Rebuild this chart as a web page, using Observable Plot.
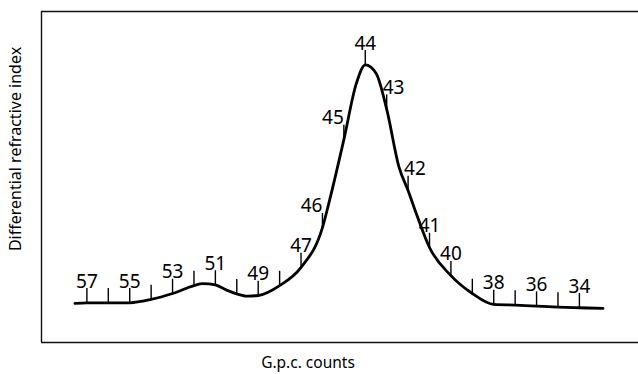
<!DOCTYPE html>
<html>
<head>
<meta charset="utf-8">
<script src="https://cdn.jsdelivr.net/npm/d3@7"></script>
<script src="https://cdn.jsdelivr.net/npm/@observablehq/plot@0.6"></script>
<style>
  html, body { margin: 0; padding: 0; background: #fff; }
  #chart svg { display: block; }
</style>
</head>
<body>
<div id="chart"></div>
<script>
// G.p.c. count positions along the trace (reversed axis: 57 on the left, 34 on the right)
const counts = [57.56, 57, 56, 55, 54, 53, 52, 51.6, 51, 50.5, 50, 49.5, 49, 48, 47, 46, 45.67, 45, 44.42, 44,
                43.49, 43, 42.42, 42, 41.67, 41, 40, 39, 38, 37, 36, 35, 34, 32.9];
// Differential refractive index signal (arbitrary units, 0–100 of the frame height)
const signal = [11.8, 12.0, 12.0, 12.0, 13.0, 14.8, 17.2, 17.8, 17.4, 15.9, 14.7, 14.0, 14.2, 17.2, 22.7, 34.7, 42.9, 61.3, 78.2, 83.9,
                81.3, 70.5, 52.9, 45.9, 39.9, 28.7, 20.2, 14.8, 11.5, 11.3, 11.0, 10.7, 10.5, 10.3];
// Count markers that carry a number
const labeledCounts = [57, 55, 53, 51, 49, 47, 46, 45, 44, 43, 42, 41, 40, 38, 36, 34];
const xTitle = "G.p.c. counts";
const yTitle = "Differential refractive index";

const trace = counts.map((c, i) => ({c, v: signal[i]}));
const marks = trace.filter(d => Number.isInteger(d.c));
const labels = marks.filter(d => labeledCounts.includes(d.c));
const tickLen = 4.3;
const endSide = [45, 46], startSide = [42, 43];

const chart = Plot.plot({
  width: 638,
  height: 374,
  marginLeft: 41,
  marginRight: 0,
  marginTop: 11,
  marginBottom: 32,
  x: {domain: [59.12, 31.24], axis: null},
  y: {domain: [0, 100], axis: null},
  style: {fontFamily: "'Noto Sans', sans-serif", background: "white", color: "#111"},
  marks: [
    Plot.ruleY([0, 100], {stroke: "#111", strokeWidth: 1.4}),
    Plot.ruleX([59.12], {stroke: "#111", strokeWidth: 1.4}),
    Plot.line(trace, {x: "c", y: "v", curve: "monotone-x", stroke: "#000", strokeWidth: 2.8}),
    Plot.ruleX(marks, {x: "c", y1: "v", y2: d => d.v + tickLen, stroke: "#000", strokeWidth: 1.4}),
    Plot.text(labels.filter(d => !endSide.includes(d.c) && !startSide.includes(d.c)),
      {x: "c", y: d => d.v + tickLen, text: d => String(d.c), lineAnchor: "bottom", dy: -1, fontSize: 19, fill: "#000"}),
    Plot.text(labels.filter(d => endSide.includes(d.c)),
      {x: "c", y: d => d.v + tickLen, text: d => String(d.c), textAnchor: "end", lineAnchor: "bottom", dy: -1, dx: 0, fontSize: 19, fill: "#000"}),
    Plot.text(labels.filter(d => startSide.includes(d.c)),
      {x: "c", y: d => d.v + tickLen, text: d => String(d.c), textAnchor: "start", lineAnchor: "bottom", dy: -1, dx: -4, fontSize: 19, fill: "#000"}),
    Plot.text([yTitle], {text: d => d, frameAnchor: "left", textAnchor: "middle", lineAnchor: "middle", rotate: -90, dx: -26, dy: -28, fontSize: 16, fill: "#000"}),
    Plot.text([xTitle], {text: d => d, frameAnchor: "bottom", textAnchor: "middle", lineAnchor: "middle", dx: -32, dy: 21, fontSize: 15.5, fill: "#000"})
  ]
});
document.getElementById("chart").append(chart);
</script>
</body>
</html>
